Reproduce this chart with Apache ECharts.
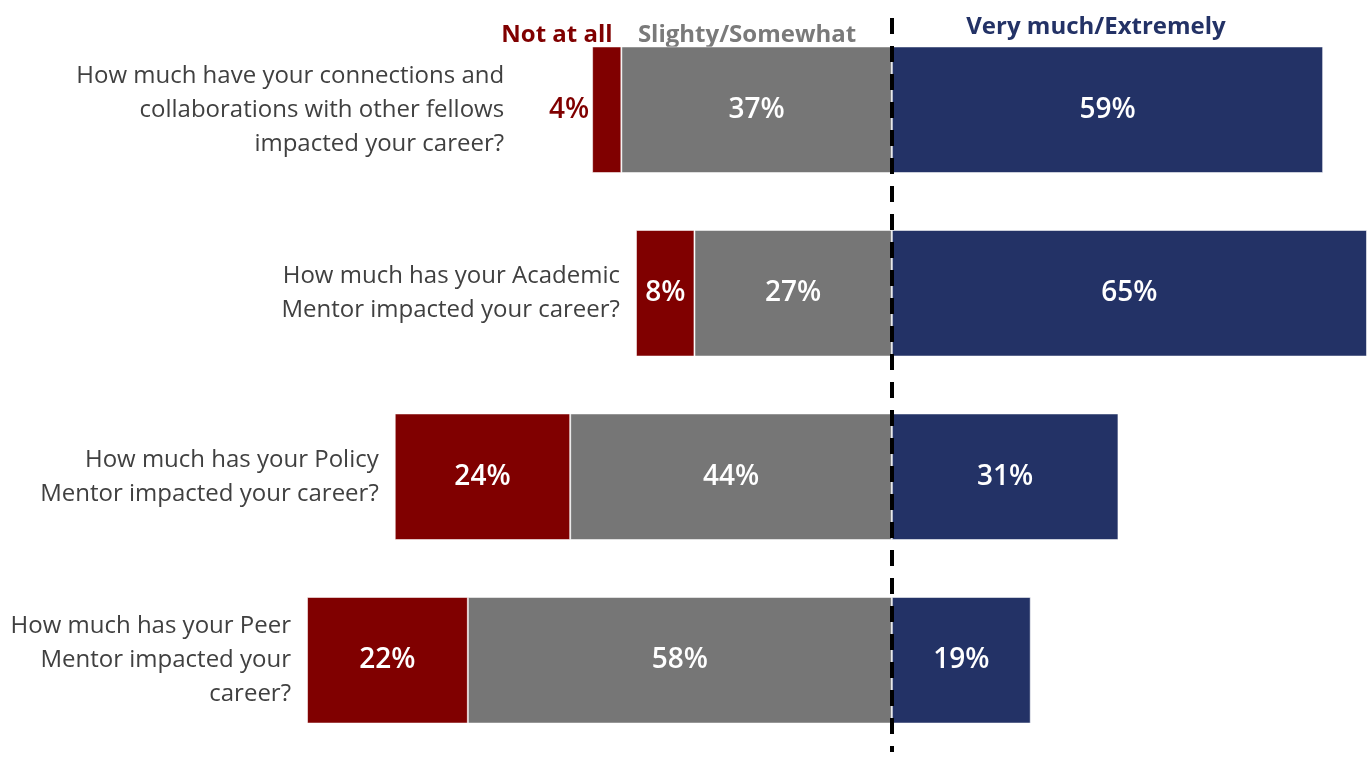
<!DOCTYPE html>
<html>
<head>
<meta charset="utf-8">
<script src="https://cdn.jsdelivr.net/npm/echarts@6/dist/echarts.min.js"></script>
<style>
  html, body { margin: 0; padding: 0; background: #ffffff; }
  #chart { width: 1367px; height: 758px; }
</style>
</head>
<body>
<div id="chart"></div>
<script>
// Survey questions (top to bottom)
const questions = [
  'How much have your connections and\ncollaborations with other fellows\nimpacted your career?',
  'How much has your Academic\nMentor impacted your career?',
  'How much has your Policy\nMentor impacted your career?',
  'How much has your Peer\nMentor impacted your\ncareer?'
];
const categories = ['Connections', 'Academic Mentor', 'Policy Mentor', 'Peer Mentor'];

// Response shares, percent
const notAtAll = [4, 8, 24, 22];
const slightly = [37, 27, 44, 58];
const veryMuch = [59, 65, 31, 19];

const headers = ['Not at all', 'Slighty/Somewhat', 'Very much/Extremely'];

const RED = '#800000';
const GRAY = '#767676';
const NAVY = '#233266';
const FONT = '"Open Sans", "Liberation Sans", sans-serif';

const pct = p => Math.abs(p.value) + '%';
const valueLabel = {
  show: true,
  position: 'inside',
  color: '#ffffff',
  fontFamily: FONT,
  fontWeight: 600,
  fontSize: 28,
  formatter: pct
};
const border = { borderColor: 'rgba(255,255,255,0.55)', borderWidth: 1 };

// Small "not at all" shares get their label outside the bar
const isSmall = v => v < 6;
const notAtAllData = notAtAll.map(v => isSmall(v)
  ? { value: -v, label: { position: 'left', distance: 3, color: RED } }
  : -v);

// Left end of each row, used to anchor the question text
const leftEnds = notAtAll.map((v, i) => [-(v + slightly[i]), categories[i], isSmall(v) ? 1 : 0]);

const chart = echarts.init(document.getElementById('chart'), null, { renderer: 'canvas' });

const headerStyle = (text, fill) => ({
  text: text, fill: fill, font: 'bold 24px ' + FONT, textAlign: 'center', textVerticalAlign: 'bottom'
});

chart.setOption({
  backgroundColor: '#ffffff',
  animation: false,
  grid: { left: 0, right: 0, top: 18, bottom: 6, containLabel: false },
  xAxis: {
    type: 'value', min: -122, max: 65,
    show: false, splitLine: { show: false }
  },
  yAxis: {
    type: 'category', data: categories, inverse: true,
    show: false
  },
  graphic: [
    { type: 'text', x: 557, y: 47, style: headerStyle(headers[0], RED) },
    { type: 'text', x: 747, y: 47, style: headerStyle(headers[1], '#7a7a7a') },
    { type: 'text', x: 1096, y: 39, style: headerStyle(headers[2], NAVY) }
  ],
  series: [
    {
      name: headers[1], type: 'bar', stack: 'total', barCategoryGap: '31%',
      data: slightly.map(v => -v),
      itemStyle: Object.assign({ color: GRAY }, border),
      label: valueLabel
    },
    {
      name: headers[0], type: 'bar', stack: 'total',
      data: notAtAllData,
      itemStyle: Object.assign({ color: RED }, border),
      label: valueLabel
    },
    {
      name: headers[2], type: 'bar', stack: 'total',
      data: veryMuch,
      itemStyle: Object.assign({ color: NAVY }, border),
      label: valueLabel,
      markLine: {
        silent: true,
        symbol: 'none',
        z: 10,
        label: { show: false },
        lineStyle: { color: '#000000', width: 4, type: [16, 12] },
        data: [{ xAxis: 0 }]
      }
    },
    {
      type: 'custom',
      clip: false,
      silent: true,
      data: leftEnds,
      encode: { x: 0, y: 1 },
      renderItem: function (params, api) {
        const pt = api.coord([api.value(0), api.value(1)]);
        const gap = api.value(2) ? 88 : 16;
        return {
          type: 'text',
          x: pt[0] - gap,
          y: pt[1],
          style: {
            text: questions[params.dataIndex],
            fill: '#404040',
            fontFamily: FONT,
            fontSize: 24,
            lineHeight: 34,
            align: 'right',
            verticalAlign: 'middle'
          }
        };
      }
    }
  ]
});
</script>
</body>
</html>
